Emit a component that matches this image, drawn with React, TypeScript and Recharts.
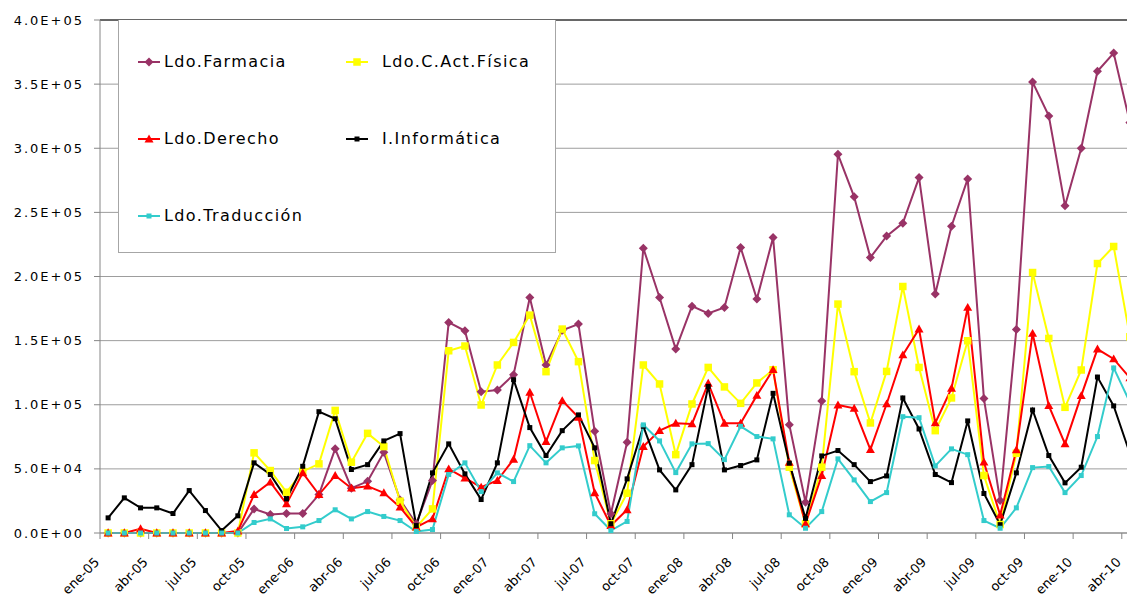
import React from 'react';
import { LineChart, Line, XAxis, YAxis, CartesianGrid, ReferenceLine } from 'recharts';

// Category labels (month-year, Spanish)
const MONTHS = ['ene', 'feb', 'mar', 'abr', 'may', 'jun', 'jul', 'ago', 'sep', 'oct', 'nov', 'dic'];
const YEARS = ['05', '06', '07', '08', '09', '10'];
const CATEGORIES = YEARS.flatMap((y) => MONTHS.map((m) => `${m}-${y}`)).slice(0, 64);

// Series values, ene-05 .. abr-10
const FARMACIA = [
  0, 0, 0, 0, 0, 0, 0, 0, 0, 18800, 14400, 15200,
  15200, 30000, 65600, 34900, 40300, 62900, 25800, 7200, 40900, 164200, 157700, 110200,
  111500, 123400, 183600, 131000, 158000, 162900, 79300, 15000, 70700, 222100, 183600, 143400,
  176900, 171200, 175900, 222600, 182400, 230400, 84500, 24000, 103000, 295300, 262100, 214800,
  231500, 241600, 277100, 186300, 239200, 276100, 104800, 25300, 158700, 351600, 325200, 255100,
  300000, 360000, 374200, 320000,
];
const ACT_FISICA = [
  0, 0, 0, 0, 0, 0, 0, 0, 0, 62500, 48700, 31800,
  48000, 53900, 95600, 55200, 77700, 67400, 24800, 4500, 18800, 142100, 145800, 99800,
  131000, 148600, 169900, 125800, 159000, 133600, 56500, 7200, 31000, 131000, 116200, 61100,
  100600, 129100, 113900, 101100, 117000, 127300, 51300, 7200, 51300, 178500, 125800, 85800,
  126000, 192200, 129100, 79800, 105300, 149900, 44800, 6600, 62200, 203100, 151700, 98000,
  127100, 210100, 223400, 153000,
];
const DERECHO = [
  0, 0, 3300, 0, 0, 0, 0, 0, 1500, 30000, 39600, 22700,
  46900, 30000, 44800, 34900, 36500, 31300, 20100, 4500, 11000, 50000, 42700, 35700,
  40900, 57500, 109700, 71300, 103200, 90200, 31300, 5800, 18100, 67400, 79800, 85500,
  85000, 116700, 85500, 85500, 107300, 127300, 55000, 7200, 44800, 99800, 97200, 65000,
  100600, 138800, 159000, 85800, 112800, 175900, 55200, 14000, 64800, 155600, 99300, 69500,
  107100, 143400, 135700, 121000,
];
const INFORMATICA = [
  11800, 27400, 19600, 19600, 15200, 33100, 17500, 1900, 13400, 54700, 45600, 26600,
  52000, 94600, 89100, 49500, 53300, 71800, 77500, 5800, 46900, 69500, 46100, 26100,
  54700, 119500, 82200, 60400, 79800, 92100, 66400, 7200, 42200, 83200, 49200, 33600,
  53300, 114300, 49200, 52600, 57000, 108900, 54500, 11400, 60100, 64300, 53300, 40100,
  44500, 105300, 81100, 45600, 39300, 87400, 30800, 6500, 46900, 95900, 60400, 39100,
  51300, 121600, 99100, 62000,
];
const TRADUCCION = [
  0, 0, 0, 0, 0, 0, 0, 0, 0, 8200, 11000, 3500,
  4800, 9700, 18100, 11000, 16700, 12900, 9700, 1200, 2700, 45600, 54700, 32300,
  46900, 40100, 68100, 54700, 66400, 67900, 15000, 1900, 9000, 84300, 71800, 47100,
  69500, 69700, 57200, 83200, 75200, 73400, 14200, 3700, 16700, 57800, 41400, 24500,
  31500, 90700, 89900, 52300, 65600, 61100, 9700, 3700, 19600, 51000, 51800, 31500,
  44800, 75200, 128700, 102000,
];

const Y_TICKS = [0, 50000, 100000, 150000, 200000, 250000, 300000, 350000, 400000];
// tick marks sit on category boundaries, every 3 months
const X_TICKS = CATEGORIES.map((_, i) => i).filter((i) => i % 3 === 0).map((i) => i - 0.5);

const data = CATEGORIES.map((label, i) => ({
  idx: i,
  label,
  farmacia: FARMACIA[i],
  actFisica: ACT_FISICA[i],
  derecho: DERECHO[i],
  informatica: INFORMATICA[i],
  traduccion: TRADUCCION[i],
}));

type Shape = 'diamond' | 'square' | 'triangle';

const SERIES: Array<{ key: string; name: string; color: string; shape: Shape; size: number }> = [
  { key: 'farmacia', name: 'Ldo.Farmacia', color: '#993366', shape: 'diamond', size: 9 },
  { key: 'actFisica', name: 'Ldo.C.Act.Física', color: '#FFFF00', shape: 'square', size: 7.5 },
  { key: 'derecho', name: 'Ldo.Derecho', color: '#FF0000', shape: 'triangle', size: 9 },
  { key: 'informatica', name: 'I.Informática', color: '#000000', shape: 'square', size: 5 },
  { key: 'traduccion', name: 'Ldo.Traducción', color: '#33CCCC', shape: 'square', size: 5 },
];

// legend slots: [column, row]
const LEGEND_SLOTS = [
  [0, 0],
  [1, 0],
  [0, 1],
  [1, 1],
  [0, 2],
];

function Marker({ cx, cy, shape, size, color }: { cx: number; cy: number; shape: Shape; size: number; color: string }) {
  const r = size / 2;
  if (shape === 'diamond') {
    return <polygon points={`${cx},${cy - r} ${cx + r},${cy} ${cx},${cy + r} ${cx - r},${cy}`} fill={color} />;
  }
  if (shape === 'triangle') {
    return <polygon points={`${cx},${cy - r} ${cx + r},${cy + r * 0.75} ${cx - r},${cy + r * 0.75}`} fill={color} />;
  }
  return <rect x={cx - r} y={cy - r} width={size} height={size} fill={color} />;
}

const sci = (v: number) => {
  if (v === 0) return '0.0E+00';
  const [m, e] = v.toExponential(1).split('e');
  const n = Math.abs(parseInt(e, 10));
  return `${m}E${e[0]}${n < 10 ? '0' + n : n}`;
};

function XTick(props: any) {
  const { x, y, payload } = props;
  const label = CATEGORIES[Math.round(payload.value + 0.5)];
  if (!label) return null;
  const ty = y + 22;
  return (
    <text x={x} y={ty} transform={`rotate(-45 ${x} ${ty})`} textAnchor="end" fontSize={13} fill="#000">
      {label}
    </text>
  );
}

function LegendBox() {
  return (
    <div
      style={{
        position: 'absolute',
        left: 118,
        top: 20,
        width: 436,
        height: 232,
        background: '#fff',
        border: '1px solid #a6a6a6',
        borderTop: 'none',
        fontSize: 16,
        letterSpacing: 1.4,
        color: '#000',
      }}
    >
      {SERIES.map((s, i) => {
        const [col, row] = LEGEND_SLOTS[i];
        const top = 42 + row * 77;
        const markerX = col === 0 ? 29.5 : 238;
        const textX = col === 0 ? 45 : 263;
        return (
          <React.Fragment key={s.key}>
            <svg
              width={22}
              height={20}
              style={{ position: 'absolute', left: markerX - 11, top: top - 10 }}
            >
              <line x1={0} y1={10} x2={22} y2={10} stroke={s.color} strokeWidth={2} />
              <Marker cx={11} cy={10} shape={s.shape} size={s.size} color={s.color} />
            </svg>
            <span
              style={{
                position: 'absolute',
                left: textX,
                top: top - 11,
                lineHeight: '22px',
                whiteSpace: 'nowrap',
              }}
            >
              {s.name}
            </span>
          </React.Fragment>
        );
      })}
    </div>
  );
}

export default function App() {
  return (
    <div
      style={{
        position: 'absolute',
        left: 0,
        top: 0,
        width: 1127,
        height: 596,
        overflow: 'hidden',
        background: '#fff',
        fontFamily: '"DejaVu Sans", Verdana, sans-serif',
      }}
    >
      <LineChart width={1140} height={596} data={data} margin={{ top: 20, right: 2, bottom: 0, left: 0 }}>
        <CartesianGrid vertical={false} stroke="#9d9d9d" />
        <XAxis
          type="number"
          dataKey="idx"
          domain={[-0.5, 63.5]}
          ticks={X_TICKS}
          interval={0}
          height={63}
          tickSize={6}
          tick={<XTick />}
          tickLine={{ stroke: '#868686' }}
          axisLine={{ stroke: '#868686' }}
        />
        <YAxis
          domain={[0, 400000]}
          ticks={Y_TICKS}
          interval={0}
          width={100}
          tickSize={6}
          tickMargin={10}
          tickFormatter={sci}
          tick={{ fill: '#000', fontSize: 13, letterSpacing: 2 }}
          tickLine={{ stroke: '#868686' }}
          axisLine={{ stroke: '#868686' }}
        />
        <ReferenceLine y={400000} stroke="#000" />
        {SERIES.map((s) => (
          <Line
            key={s.key}
            type="linear"
            dataKey={s.key}
            name={s.name}
            stroke={s.color}
            strokeWidth={2}
            isAnimationActive={false}
            activeDot={false}
            dot={(p: any) => (
              <Marker key={`${s.key}-${p.index}`} cx={p.cx} cy={p.cy} shape={s.shape} size={s.size} color={s.color} />
            )}
          />
        ))}
      </LineChart>
      <LegendBox />
    </div>
  );
}
